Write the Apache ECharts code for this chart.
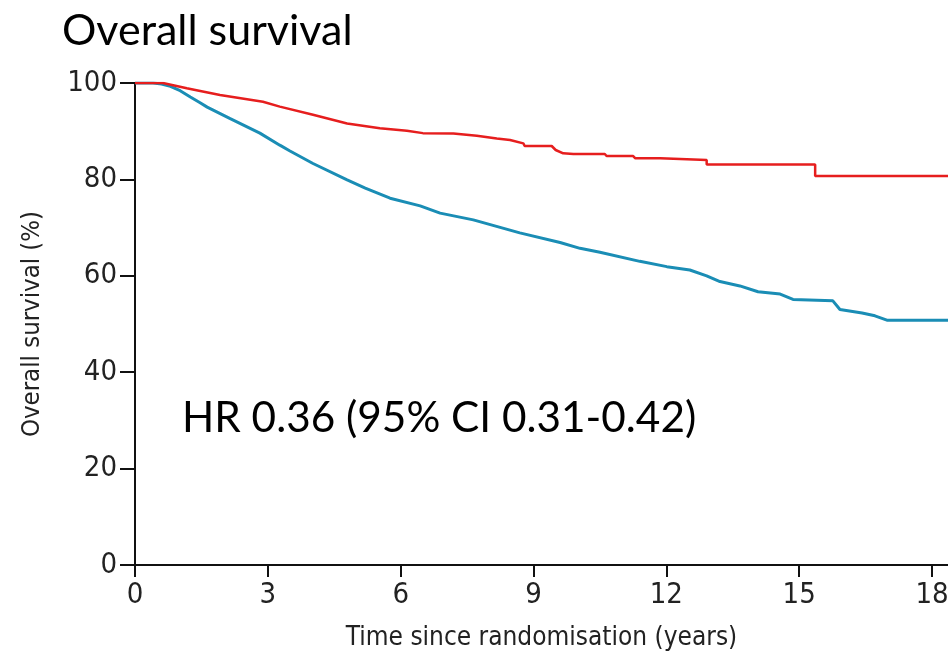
<!DOCTYPE html>
<html><head><meta charset="utf-8">
<script src="https://cdn.jsdelivr.net/npm/echarts@6/dist/echarts.min.js"></script>
<style>html,body{margin:0;padding:0;background:#fff;overflow:hidden}#c{width:948px;height:655px}</style>
</head><body><div id="c"></div>
<script>
const xTicks = [0, 3, 6, 9, 12, 15, 18];
const yTicks = [0, 20, 40, 60, 80, 100];
const redCurve = [[0,100],[0.63,100],[1.17,98.9],[1.39,98.5],[1.92,97.5],[2.89,96.1],[3.27,95.1],[4.02,93.4],[4.79,91.6],[5.53,90.6],[6.14,90.1],[6.5,89.6],[7.19,89.5],[7.72,89.07],[8.17,88.5],[8.47,88.17],[8.77,87.48],[8.8,86.93],[9.41,86.93],[9.5,86.1],[9.67,85.4],[9.9,85.27],[10.61,85.27],[10.65,84.85],[11.25,84.85],[11.3,84.37],[11.86,84.37],[11.9,84.0],[12.91,84.0],[12.91,83.1],[15.36,83.1],[15.36,80.7],[18.36,80.7]];
const blueCurve = [[0,100],[0.41,100],[0.6,99.8],[0.8,99.3],[1.02,98.4],[1.25,97.1],[1.47,95.9],[1.63,95.0],[2.15,92.6],[2.82,89.6],[3.27,87.1],[3.5,85.9],[4.02,83.3],[4.79,79.9],[5.2,78.2],[5.76,76.1],[6.44,74.5],[6.89,73.0],[7.64,71.6],[8.69,68.9],[9.6,66.9],[10.05,65.7],[10.50,64.9],[11.40,63.0],[12.01,61.9],[12.53,61.2],[12.91,60.0],[13.21,58.8],[13.66,57.9],[14.07,56.7],[14.57,56.2],[14.86,55.1],[15.76,54.8],[15.92,53.0],[16.42,52.3],[16.71,51.7],[16.98,50.8],[18.36,50.8]];
const xMax = 18.36;

const chart = echarts.init(document.getElementById('c'), null, {renderer:'canvas', width:948, height:655});
const axisFont = '"Liberation Sans Narrow","DejaVu Sans Condensed","Roboto",sans-serif';
chart.setOption({
  animation:false,
  backgroundColor:'#fff',
  grid:{left:135, top:83, width:813, height:482, containLabel:false, outerBoundsMode:'none'},
  xAxis:{type:'value', min:0, max:xMax, interval:3,
    name:'Time since randomisation (years)', nameLocation:'middle', nameGap:60,
    nameTextStyle:{fontFamily:axisFont, fontSize:26, color:'#222'},
    axisLine:{lineStyle:{color:'#111', width:2}},
    axisTick:{show:true, length:12, lineStyle:{color:'#111', width:2}, customValues:xTicks},
    axisLabel:{fontFamily:axisFont, fontSize:29, color:'#222', margin:16, customValues:xTicks},
    splitLine:{show:false}},
  yAxis:{type:'value', min:0, max:100, interval:20,
    name:'Overall survival (%)', nameLocation:'middle', nameGap:90, nameRotate:90,
    nameTextStyle:{fontFamily:axisFont, fontSize:25.5, color:'#222'},
    axisLine:{show:true, lineStyle:{color:'#111', width:2}},
    axisTick:{show:true, length:15, lineStyle:{color:'#111', width:2}},
    axisLabel:{fontFamily:axisFont, fontSize:29, color:'#222', margin:18},
    splitLine:{show:false}},
  graphic:[
    {type:'text', left:62, top:10, style:{text:'Overall survival', font:'43px Lato, "Open Sans", sans-serif', fill:'#000'}},
    {type:'text', left:182, top:397, style:{text:'HR 0.36 (95% CI 0.31-0.42)', font:'42.3px Lato, "Open Sans", sans-serif', fill:'#000'}}
  ],
  series:[
    {type:'line', data:blueCurve, showSymbol:false, lineStyle:{color:'#1a8db5', width:3}, z:2},
    {type:'line', data:redCurve, showSymbol:false, lineStyle:{color:'#e61e1e', width:2.5}, z:3}
  ]
});
</script></body></html>
